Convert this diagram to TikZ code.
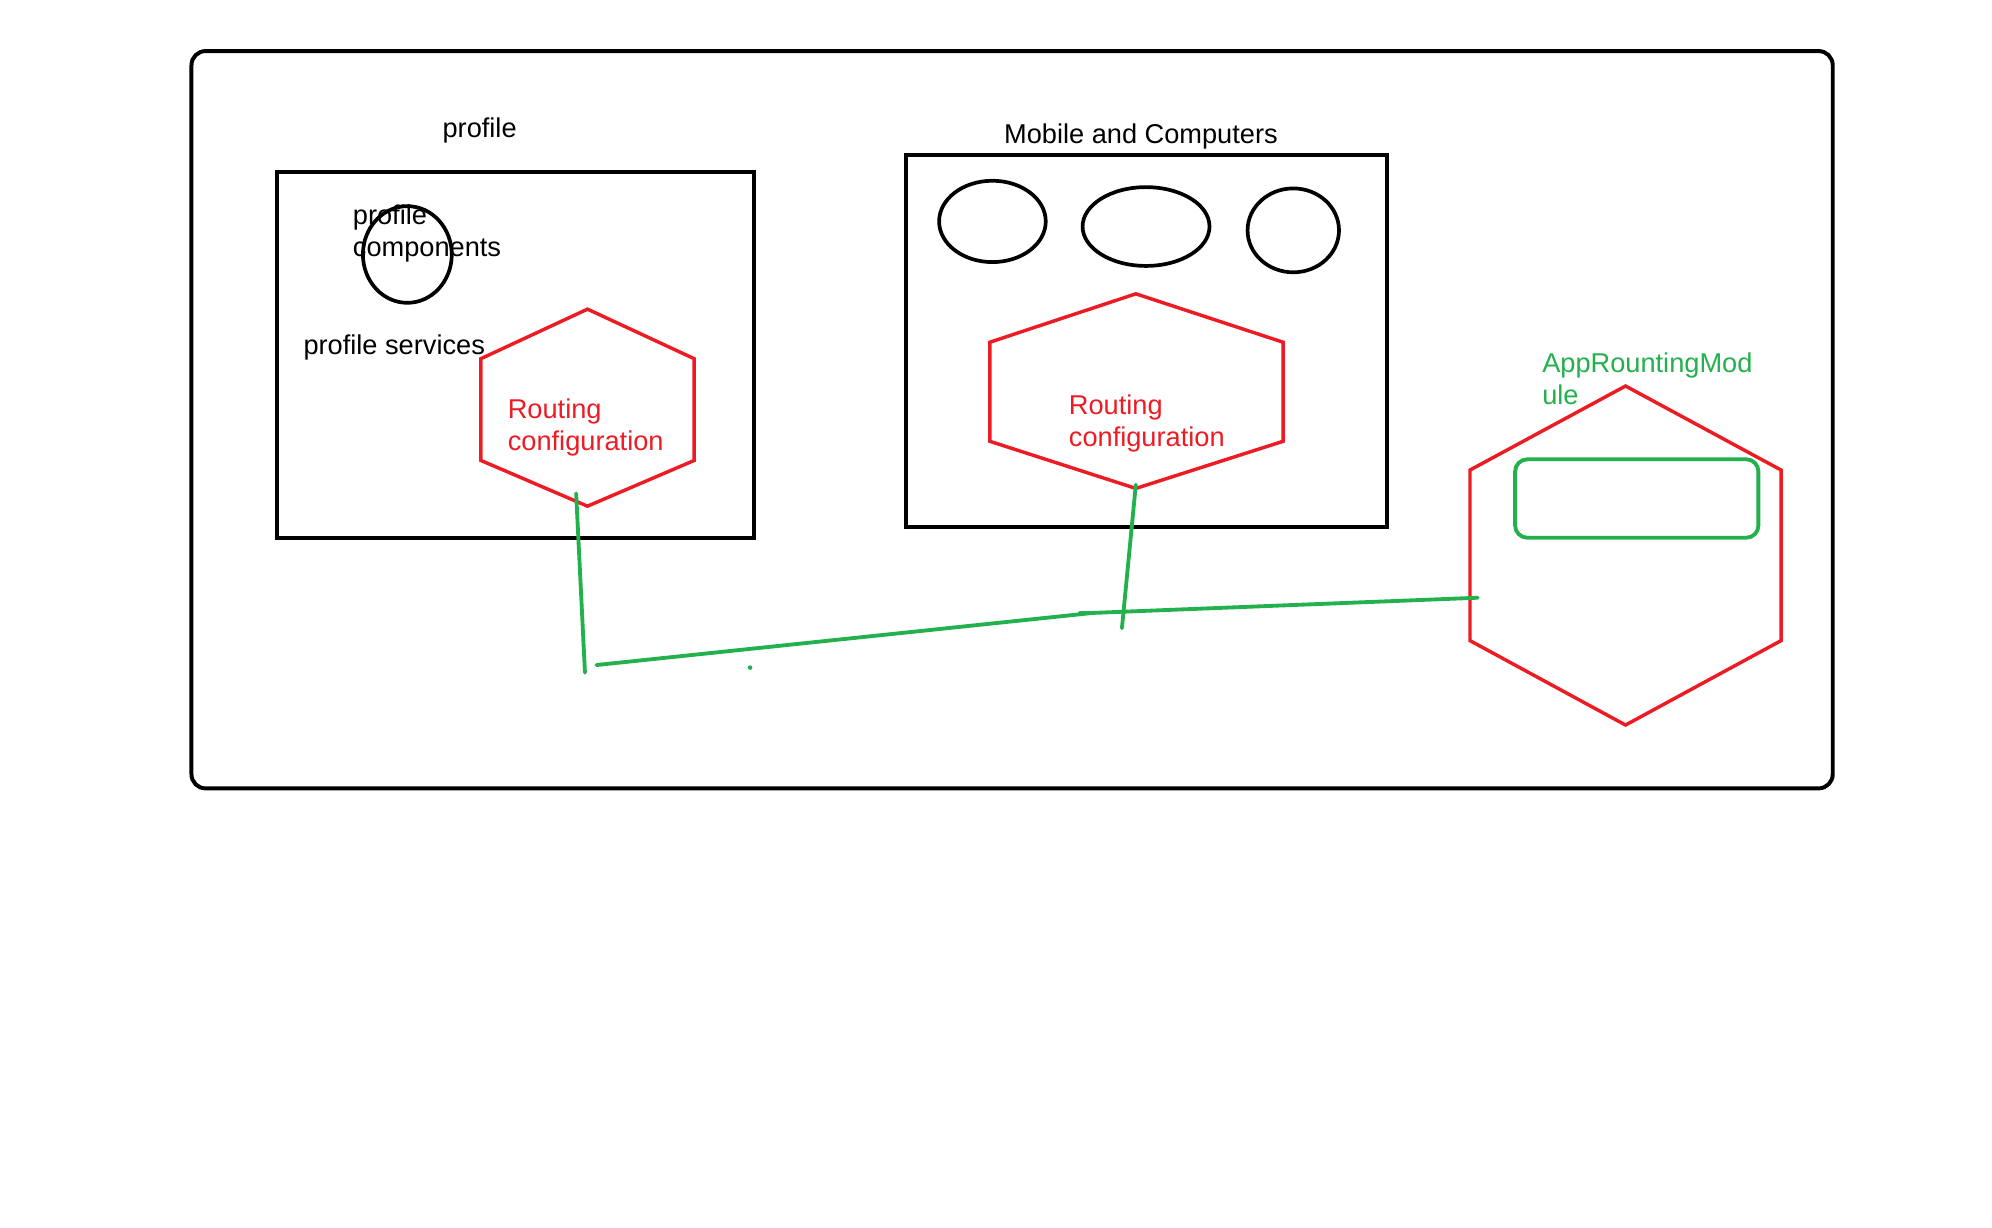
\documentclass[tikz,border=0pt]{standalone}
\usepackage{fontspec}
\setmainfont{Liberation Sans}
\usetikzlibrary{shapes.geometric}
\definecolor{paintred}{RGB}{237,28,36}
\definecolor{paintgreen}{RGB}{34,177,76}
\tikzstyle{frame-node}=[draw=black,line width=3.1pt,rounded corners=11pt,inner sep=0pt]
\tikzstyle{box-node}=[draw=black,line width=3.1pt,inner sep=0pt]
\tikzstyle{blob-node}=[draw=black,ellipse,line width=2.9pt,inner sep=0pt]
\tikzstyle{label-node}=[inner sep=0pt,align=left,font=\fontsize{21.3}{25}\selectfont]
\tikzstyle{red-line}=[draw=paintred,line width=2.7pt,line join=miter]
\tikzstyle{green-line}=[draw=paintgreen,line width=3pt,line cap=round]

\begin{document}
\begin{tikzpicture}[x=1pt,y=-1pt]
	\useasboundingbox[fill=white] (0,0) rectangle (1560,961);

	\begin{scope}
	\node (app)[frame-node,minimum width=1285.3,minimum height=577.4] at (792.6,328.7) {};
	\node (profile-box)[box-node,minimum width=373.7,minimum height=286.7] at (403.5,278) {};
	\node (mobile-box)[box-node,minimum width=376.7,minimum height=290.7] at (898,267) {};

	\node (pc-blob)[blob-node,minimum width=69.6,minimum height=75.7] at (319,199.3) {};
	\node (m1)[blob-node,minimum width=83.5,minimum height=63.7] at (777.2,173.4) {};
	\node (m2)[blob-node,minimum width=99.4,minimum height=61.7] at (897.5,177.4) {};
	\node (m3)[blob-node,minimum width=71.6,minimum height=65.7] at (1012.8,180.4) {};

	\node (module-box)[draw=paintgreen,line width=3pt,rounded corners=9.5pt,minimum width=190.5,minimum height=61.4] at (1281.8,390.4) {};
	\end{scope}

	% hexagons
	\draw[red-line] (460.1,242.1) -- (543.6,280.9) -- (543.6,360.6) -- (460.1,396.4) -- (376.6,360.6) -- (376.6,280.9) -- cycle;
	\draw[red-line] (889.5,230.1) -- (1004.8,268) -- (1004.8,345.6) -- (889.5,382.5) -- (775.2,345.6) -- (775.2,268) -- cycle;
	\draw[red-line] (1273,302.3) -- (1394.8,368.1) -- (1394.8,501.7) -- (1273,567.8) -- (1151.2,501.7) -- (1151.2,368.1) -- cycle;

	\begin{scope}
	\node (profile-label)[label-node,anchor=base] at (375.6,107.6) {profile};
	\node (mobile-label)[label-node,anchor=base] at (893.5,112.7) {Mobile and Computers};
	\node (pc-label)[label-node,anchor=north west] at (276.2,160.5) {profile\\components};
	\node (ps-label)[label-node,anchor=base west] at (237.5,277.9) {profile services};
	\node (route1)[label-node,anchor=north west,text=paintred] at (397.5,311.8) {Routing\\configuration};
	\node (route2)[label-node,anchor=north west,text=paintred] at (836.9,308.8) {Routing\\configuration};
	\node (module-label)[label-node,anchor=north west,text=paintgreen] at (1207.6,275.9) {AppRountingMod\\ule};
	\end{scope}

	\coordinate (g1a) at (451.2,386.4);
	\coordinate (g1b) at (458.1,526.8);
	\coordinate (g2a) at (467.1,520.8);
	\coordinate (g2b) at (855.7,480);
	\coordinate (g2c) at (1157.2,468.1);
	\coordinate (g3a) at (889.5,379.5);
	\coordinate (g3b) at (878.6,492);
	\coordinate (stub) at (845.8,480);

	\begin{scope}[every edge/.style=green-line]
	\path (g1a) edge (g1b);
	\path (g2a) edge (g2b);
	\path (g2b) edge (g2c);
	\path (stub) edge (g2b);
	\path (g3a) edge (g3b);
	\end{scope}
	\fill[paintgreen] (587.4,522.8) circle (1.8);
\end{tikzpicture}
\end{document}
